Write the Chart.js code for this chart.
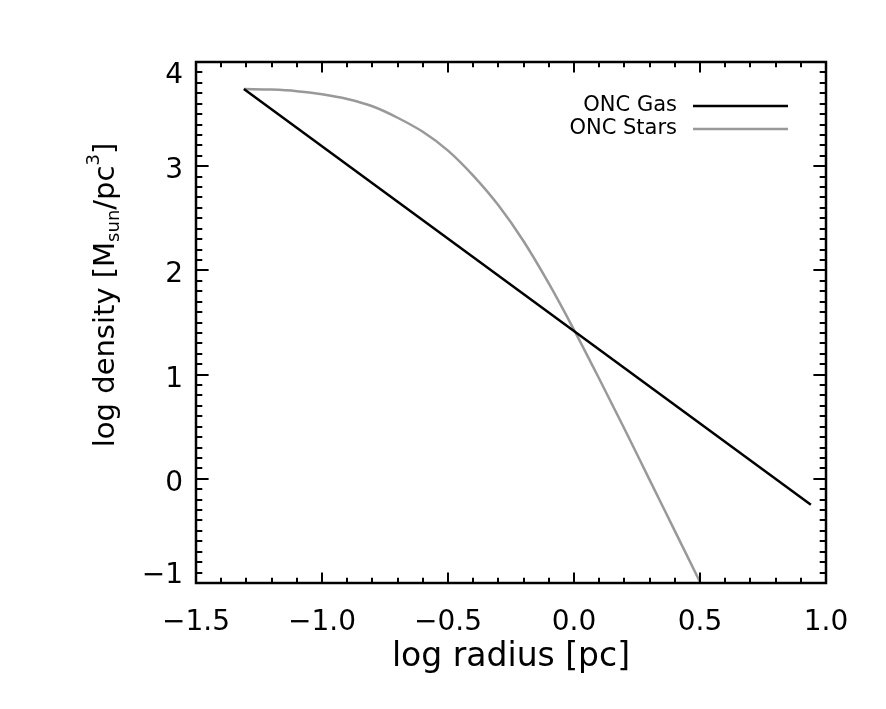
<!DOCTYPE html>
<html>
<head>
<meta charset="utf-8">
<script src="https://cdn.jsdelivr.net/npm/chart.js@4"></script>
<style>
  html, body { margin: 0; padding: 0; background: #fff; }
  #wrap { width: 886px; height: 709px; }
</style>
</head>
<body>
<div id="wrap"><canvas id="densityChart" width="886" height="709"></canvas></div>
<script>
// values (log radius [pc], log density [Msun/pc^3])
const gasX = [-1.31, 0.94];
const gasY = [3.74, -0.25];
const starsX = [-1.31, -1.2, -1.1, -1.0, -0.9, -0.8, -0.7, -0.6, -0.5, -0.4, -0.3, -0.2, -0.1, 0.0, 0.1, 0.2, 0.3, 0.4, 0.5, 0.51];
const starsY = [3.74, 3.735, 3.72, 3.69, 3.645, 3.575, 3.465, 3.33, 3.15, 2.91, 2.625, 2.28, 1.875, 1.43, 0.96, 0.48, -0.01, -0.50, -0.99, -1.04];
const seriesNames = ["ONC Gas", "ONC Stars"];
const seriesColors = ["#000000", "#999999"];

const xTicks = [-1.5, -1.0, -0.5, 0.0, 0.5, 1.0];
const yTicks = [-1, 0, 1, 2, 3, 4];
const xMinorStep = 0.1;
const yMinorStep = 0.1;

const FONT = "'DejaVu Sans', sans-serif";
const MINUS = "\u2212";

function fmt(v, digits) {
  const s = Math.abs(v).toFixed(digits);
  return v < -1e-9 ? MINUS + s : s;
}

function toPoints(xs, ys) {
  return xs.map((x, i) => ({ x: x, y: ys[i] }));
}

// frame, inward ticks on all four sides, tick labels, titles, legend
const idlFrame = {
  id: "idlFrame",
  afterDraw(chart) {
    const ctx = chart.ctx;
    const a = chart.chartArea;
    const xs = chart.scales.x;
    const ys = chart.scales.y;
    ctx.save();
    ctx.strokeStyle = "#000";
    ctx.fillStyle = "#000";
    ctx.lineWidth = 2.5;
    ctx.strokeRect(a.left, a.top, a.right - a.left, a.bottom - a.top);

    const xMajLen = 10.4, xMinLen = 5.2, yMajLen = 12.6, yMinLen = 6.3;
    ctx.lineWidth = 2;
    ctx.beginPath();
    // x ticks (bottom + top)
    const nx = Math.round((xs.max - xs.min) / xMinorStep);
    for (let i = 0; i <= nx; i++) {
      const v = xs.min + i * xMinorStep;
      const px = Math.round(xs.getPixelForValue(v));
      const major = xTicks.some(t => Math.abs(t - v) < 1e-6);
      const len = major ? xMajLen : xMinLen;
      ctx.moveTo(px, a.bottom); ctx.lineTo(px, a.bottom - len);
      ctx.moveTo(px, a.top); ctx.lineTo(px, a.top + len);
    }
    // y ticks (left + right)
    const ny = Math.round((ys.max - ys.min) / yMinorStep);
    for (let i = 0; i <= ny; i++) {
      const v = ys.min + i * yMinorStep;
      const py = Math.round(ys.getPixelForValue(v));
      const major = yTicks.some(t => Math.abs(t - v) < 1e-6);
      const len = major ? yMajLen : yMinLen;
      ctx.moveTo(a.left, py); ctx.lineTo(a.left + len, py);
      ctx.moveTo(a.right, py); ctx.lineTo(a.right - len, py);
    }
    ctx.stroke();

    // tick labels
    ctx.font = "28px " + FONT;
    ctx.textBaseline = "alphabetic";
    ctx.textAlign = "center";
    xTicks.forEach(v => {
      ctx.fillText(fmt(v, 1), xs.getPixelForValue(v), 630);
    });
    // y labels: end labels kept inside the frame like IDL does
    ctx.textAlign = "right";
    yTicks.forEach(v => {
      let cy = ys.getPixelForValue(v) + 2;
      cy = Math.min(Math.max(cy, a.top + 11), a.bottom - 10);
      ctx.fillText(fmt(v, 0), a.left - 13, cy + 10);
    });

    // x title
    ctx.textAlign = "center";
    ctx.textBaseline = "middle";
    ctx.font = "33px " + FONT;
    ctx.fillText("log radius [pc]", (a.left + a.right) / 2, 657);

    // y title with sub/superscript
    ctx.save();
    ctx.translate(106, 295);
    ctx.rotate(-Math.PI / 2);
    const parts = [
      { t: "log density [M", size: 29, dy: 0 },
      { t: "sun", size: 18, dy: 8 },
      { t: "/pc", size: 29, dy: 0 },
      { t: "3", size: 18, dy: -12 },
      { t: "]", size: 29, dy: 0 }
    ];
    let total = 0;
    parts.forEach(p => { ctx.font = p.size + "px " + FONT; p.w = ctx.measureText(p.t).width; total += p.w; });
    let cx = -total / 2;
    ctx.textAlign = "left";
    parts.forEach(p => {
      ctx.font = p.size + "px " + FONT;
      ctx.fillText(p.t, cx, p.dy);
      cx += p.w;
    });
    ctx.restore();

    // legend
    ctx.font = "21px " + FONT;
    ctx.textAlign = "right";
    const legendY = [106, 129];
    chart.data.datasets.forEach((ds, i) => {
      ctx.fillStyle = "#000";
      ctx.fillText(ds.label, 677, legendY[i]);
      ctx.strokeStyle = ds.borderColor;
      ctx.lineWidth = ds.borderWidth;
      ctx.beginPath();
      ctx.moveTo(693, legendY[i]);
      ctx.lineTo(788, legendY[i]);
      ctx.stroke();
    });
    ctx.restore();
  }
};

const ctx = document.getElementById("densityChart").getContext("2d");
new Chart(ctx, {
  type: "line",
  data: {
    datasets: [
      {
        label: seriesNames[0],
        data: toPoints(gasX, gasY),
        borderColor: seriesColors[0],
        borderWidth: 2.5,
        pointRadius: 0,
        fill: false
      },
      {
        label: seriesNames[1],
        data: toPoints(starsX, starsY),
        borderColor: seriesColors[1],
        borderWidth: 2.5,
        pointRadius: 0,
        fill: false,
        cubicInterpolationMode: "monotone"
      }
    ]
  },
  options: {
    responsive: false,
    animation: false,
    layout: { padding: { top: 62, right: 60, left: 0, bottom: 0 } },
    plugins: { legend: { display: false }, tooltip: { enabled: false } },
    scales: {
      x: {
        type: "linear",
        min: -1.5,
        max: 1.0,
        afterBuildTicks(scale) { scale.ticks = xTicks.map(v => ({ value: v })); },
        afterFit(scale) { scale.height = 126; },
        grid: { display: false, drawTicks: false },
        border: { display: false },
        ticks: { display: false }
      },
      y: {
        type: "linear",
        min: -1,
        max: 4,
        afterBuildTicks(scale) { scale.ticks = yTicks.map(v => ({ value: v })); },
        afterFit(scale) { scale.width = 196; },
        grid: { display: false, drawTicks: false },
        border: { display: false },
        ticks: { display: false }
      }
    }
  },
  plugins: [idlFrame]
});
</script>
</body>
</html>
